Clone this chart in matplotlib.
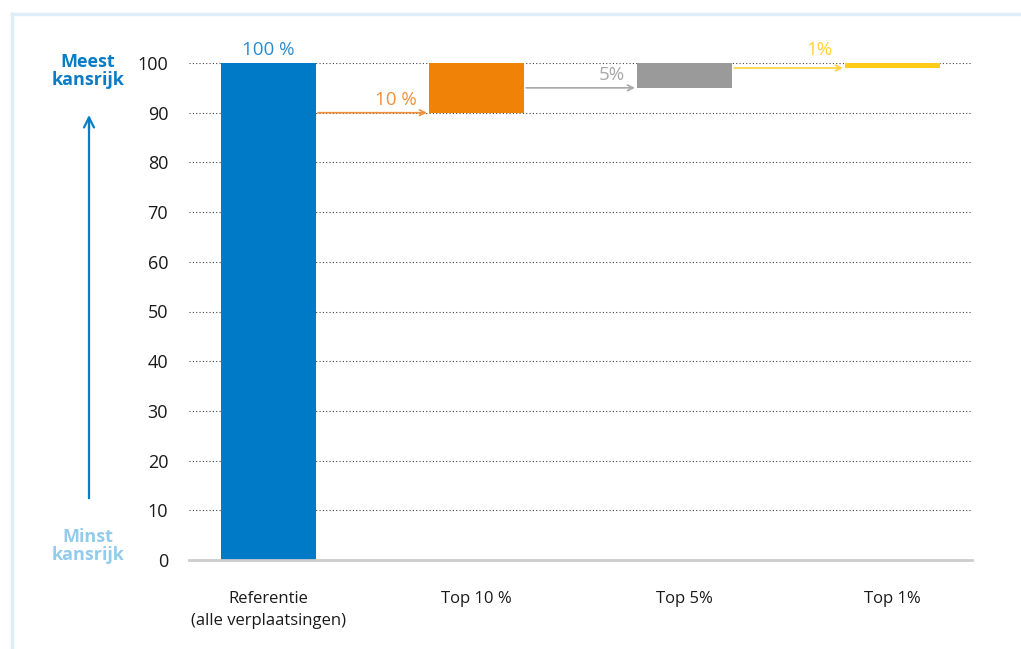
import matplotlib.pyplot as plt
from matplotlib.lines import Line2D

# Data
categories = ["Referentie\n(alle verplaatsingen)", "Top 10 %", "Top 5%", "Top 1%"]
bottoms = [0, 90, 95, 99]
shares = [100, 10, 5, 1]
share_labels = ["100 %", "10 %", "5%", "1%"]
bar_colors = ["#0079c7", "#f08208", "#9a9a9a", "#ffcc1a"]
text_colors = ["#2a8ad0", "#f0903a", "#a8a8a8", "#ffd23c"]

plt.rcParams["font.family"] = ["Open Sans", "DejaVu Sans"]

fig = plt.figure(figsize=(10.21, 6.49), dpi=100)
ax = fig.add_axes([189 / 1021, 89 / 649, 783 / 1021, 497 / 649])

x = list(range(len(categories)))
width = 0.457
ax.bar(x, shares, bottom=bottoms, width=width, color=bar_colors, zorder=3)

ax.set_ylim(0, 100)
ax.set_xlim(-0.382, 3.382)
ax.set_yticks(range(0, 101, 10))
ax.set_xticks(x)
ax.set_xticklabels(categories, fontsize=12, color="#1a1a1a", linespacing=1.5)
ax.tick_params(axis="y", length=0, pad=15, labelsize=13, labelcolor="#1a1a1a")
ax.tick_params(axis="x", length=0, pad=22)
ax.yaxis.grid(True, linestyle=(0, (1, 2)), color="#444444", linewidth=0.8, zorder=0)
for s in ["top", "right", "left"]:
    ax.spines[s].set_visible(False)
ax.spines["bottom"].set_color("#cccccc")
ax.spines["bottom"].set_linewidth(2)
ax.spines["bottom"].set_zorder(4)

# label on the reference bar
ax.text(0, 100.8, share_labels[0], ha="center", va="bottom", fontsize=13.5, color=text_colors[0])

# arrows between bars
for i in range(1, len(categories)):
    y = bottoms[i]
    x0 = x[i - 1] + width / 2 + 0.01
    x1 = x[i] - width / 2 - 0.01
    ax.annotate("", xy=(x1, y), xytext=(x0, y),
                arrowprops=dict(arrowstyle="->", color=text_colors[i], lw=1.2,
                                shrinkA=0, shrinkB=0),
                annotation_clip=False, zorder=4)
    # label sits just above the arrow, or above the chart if there is no room
    ly = y + 0.8 if y + 4.5 <= 100 else 100.9
    ax.text(x1 - 0.05, ly, share_labels[i], ha="right", va="bottom",
            fontsize=13.5, color=text_colors[i], clip_on=False)

# left side annotation
fig.text(88 / 1021, 1 - 71 / 649, "Meest\nkansrijk", ha="center", va="center",
         fontsize=13, fontweight="bold", color="#0a7bc5", linespacing=1.05)
fig.text(88 / 1021, 1 - 546 / 649, "Minst\nkansrijk", ha="center", va="center",
         fontsize=13, fontweight="bold", color="#92cbec", linespacing=1.05)
fig.add_artist(Line2D([89 / 1021, 89 / 1021], [1 - 498 / 649, 1 - 118 / 649],
                      color="#0a7bc5", lw=1.6))
ax.annotate("", xy=(89 / 1021, 1 - 115 / 649), xytext=(89 / 1021, 1 - 130 / 649),
            xycoords="figure fraction", textcoords="figure fraction",
            arrowprops=dict(arrowstyle="->", color="#0a7bc5", lw=1.6,
                            shrinkA=0, shrinkB=0, mutation_scale=18))

# frame
fig.add_artist(Line2D([12 / 1021, 12 / 1021], [0, 1 - 14 / 649], color="#ddeef9", lw=2.5))
fig.add_artist(Line2D([12 / 1021, 1], [1 - 14 / 649, 1 - 14 / 649], color="#ddeef9", lw=2.5))

fig.savefig("out.png", dpi=100)
